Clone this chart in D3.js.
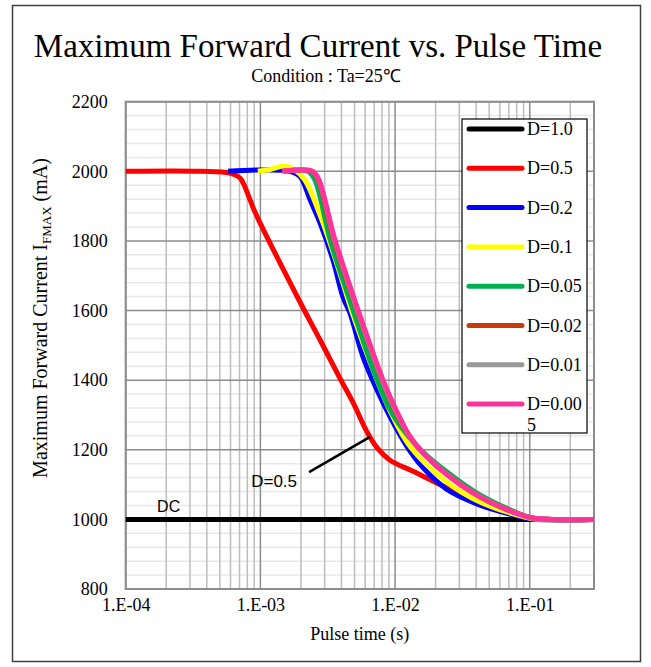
<!DOCTYPE html>
<html>
<head>
<meta charset="utf-8">
<script src="https://cdn.jsdelivr.net/npm/d3@7"></script>
<style>
  body { margin: 0; background: #fff; }
  .graph svg { display: block; }
</style>
</head>
<body>
<div class="graph"></div>
<script>
const width = 651;
const height = 667;
const margin = {top: 101.7, right: 57, bottom: 78, left: 125.7};
const innerHeight = height - margin.top - margin.bottom;
const innerWidth = width - margin.left - margin.right;
const serif = "'Liberation Serif', 'Times New Roman', serif";
const sans = "'Liberation Sans', Arial, sans-serif";

// pulse time (s), max forward current (mA)
const d10 = [[1e-4, 1000], [0.3, 1000]];
const d05 = [[1e-4, 2000], [3.57e-4, 2000], [5.94e-4, 1995], [7.06e-4, 1981], [8.38e-4, 1918],
  [9.12e-4, 1883], [1.9e-3, 1636], [2.77e-3, 1516], [3.9e-3, 1405], [4.87e-3, 1336],
  [6.18e-3, 1252], [7.34e-3, 1206], [9.17e-3, 1170], [1.36e-2, 1138], [2.43e-2, 1090],
  [4.27e-2, 1047], [7.5e-2, 1018], [0.1, 1004], [0.3, 1000]];
const d02 = [[5.75e-4, 2000], [1e-3, 2004], [1.66e-3, 2000], [1.97e-3, 1985], [2.34e-3, 1918],
  [2.77e-3, 1852], [3.46e-3, 1745], [4.1e-3, 1639], [4.62e-3, 1593], [5.78e-3, 1467],
  [7.34e-3, 1372], [9.17e-3, 1295], [1.2e-2, 1215], [1.6e-2, 1150], [2.43e-2, 1086],
  [4.27e-2, 1041], [7.5e-2, 1013], [0.105, 1001], [0.3, 1000]];
const d01 = [[9.57e-4, 2000], [1.18e-3, 2005], [1.52e-3, 2015], [1.81e-3, 2003], [2.14e-3, 1975],
  [2.77e-3, 1875], [3.58e-3, 1751], [4.87e-3, 1587], [7.09e-3, 1415], [9.49e-3, 1300],
  [1.3e-2, 1208], [2.43e-2, 1107], [4.27e-2, 1050], [7.5e-2, 1016], [0.105, 1002], [0.3, 1000]];
const d005 = [[1.52e-3, 2000], [2.25e-3, 2000], [2.54e-3, 1975], [3.3e-3, 1803], [4.87e-3, 1602],
  [7.34e-3, 1401], [9.5e-3, 1305], [1.25e-2, 1240], [1.6e-2, 1195], [2.43e-2, 1136], [4.27e-2, 1070],
  [7.5e-2, 1024], [0.105, 1004], [0.3, 1000]];
const d002 = [[1.5e-3, 2000], [2.4e-3, 2000], [2.65e-3, 1980], [3.5e-3, 1803], [5.2e-3, 1602],
  [8e-3, 1401], [1.02e-2, 1305], [1.28e-2, 1238], [1.62e-2, 1190], [2.43e-2, 1130], [4.27e-2, 1066],
  [7.5e-2, 1022], [0.105, 1004], [0.3, 1000]];
const d001 = [[1.48e-3, 2000], [2.42e-3, 2000], [2.67e-3, 1981], [3.55e-3, 1803], [5.25e-3, 1602],
  [8.05e-3, 1401], [1.03e-2, 1306], [1.29e-2, 1237], [1.63e-2, 1189], [2.43e-2, 1129], [4.27e-2, 1065],
  [7.5e-2, 1021], [0.105, 1004], [0.3, 1000]];
const d0005 = [[1.45e-3, 2000], [2.42e-3, 2000], [2.68e-3, 1981], [3.58e-3, 1803], [5.31e-3, 1602],
  [8.13e-3, 1401], [1.04e-2, 1307], [1.3e-2, 1236], [1.64e-2, 1188], [2.43e-2, 1128], [4.27e-2, 1064],
  [7.5e-2, 1021], [0.105, 1004], [0.3, 1000]];

const seriesNames = ['D=1.0', 'D=0.5', 'D=0.2', 'D=0.1', 'D=0.05', 'D=0.02', 'D=0.01', 'D=0.005'];
const seriesData = [d10, d05, d02, d01, d005, d002, d001, d0005];
const seriesColors = ['#000000', '#ff0000', '#0000ff', '#ffff00', '#00b050', '#c83c0a', '#999999', '#ff3399'];

const xTicks = [1e-4, 1e-3, 1e-2, 1e-1];
const xTickLabels = ['1.E-04', '1.E-03', '1.E-02', '1.E-01'];
const yTicks = [800, 1000, 1200, 1400, 1600, 1800, 2000, 2200];

// annotations: [time, mA]
const dcLabelPos = [1.71e-4, 1021];
const d05Leader = [[2.3e-3, 1136], [6.52e-3, 1237]];
const d05LabelPos = [8.55e-4, 1093];

const svg = d3.select('.graph').append('svg')
  .attr('width', width)
  .attr('height', height);

svg.append('rect')
  .attr('x', 12.5).attr('y', 5.5)
  .attr('width', 628).attr('height', 656)
  .attr('fill', '#fff')
  .attr('stroke', '#404040')
  .attr('stroke-width', 1.5);

svg.append('text')
  .attr('x', 318).attr('y', 57)
  .attr('text-anchor', 'middle')
  .style('font-family', serif).style('font-size', '33px')
  .text('Maximum Forward Current vs. Pulse Time');

svg.append('text')
  .attr('x', 326).attr('y', 82)
  .attr('text-anchor', 'middle')
  .style('font-family', serif).style('font-size', '18px')
  .text('Condition : Ta=25℃');

const chart = svg.append('g')
  .attr('transform', `translate(${margin.left}, ${margin.top})`);

const xScale = d3.scaleLog().domain([1e-4, 0.3]).range([0, innerWidth]);
const yScale = d3.scaleLinear().domain([800, 2200]).range([innerHeight, 0]);

// horizontal minor grid (every 40 mA)
chart.append('g').selectAll('line')
  .data(d3.range(800, 2201, 40).filter(v => v % 200 !== 0))
  .join('line')
  .attr('x1', 0).attr('x2', innerWidth)
  .attr('y1', d => yScale(d)).attr('y2', d => yScale(d))
  .attr('stroke', '#e8e8e8').attr('stroke-width', 1.5);

// vertical minor grid
const minorX = [];
xTicks.forEach(dec => { for (let k = 2; k <= 9; k++) if (dec * k <= 0.3 + 1e-9) minorX.push(dec * k); });
chart.append('g').selectAll('line')
  .data(minorX)
  .join('line')
  .attr('x1', d => xScale(d)).attr('x2', d => xScale(d))
  .attr('y1', 0).attr('y2', innerHeight)
  .attr('stroke', '#bdbdbd').attr('stroke-width', 1.5);

// major grid
chart.append('g').selectAll('line')
  .data(yTicks)
  .join('line')
  .attr('x1', 0).attr('x2', innerWidth)
  .attr('y1', d => yScale(d)).attr('y2', d => yScale(d))
  .attr('stroke', '#8c8c8c').attr('stroke-width', 1.5);

chart.append('g').selectAll('line')
  .data(xTicks)
  .join('line')
  .attr('x1', d => xScale(d)).attr('x2', d => xScale(d))
  .attr('y1', 0).attr('y2', innerHeight)
  .attr('stroke', '#8c8c8c').attr('stroke-width', 1.5);

chart.append('rect')
  .attr('width', innerWidth).attr('height', innerHeight)
  .attr('fill', 'none')
  .attr('stroke', '#8c8c8c').attr('stroke-width', 2);

// axes labels
const yAxis = d3.axisLeft(yScale).tickValues(yTicks).tickFormat(d3.format('d')).tickSize(0).tickPadding(18);
const yg = chart.append('g').call(yAxis);
yg.select('.domain').remove();
yg.selectAll('text').style('font-family', serif).style('font-size', '18px').attr('fill', '#000');

const xAxis = d3.axisBottom(xScale).tickValues(xTicks)
  .tickFormat((d, i) => xTickLabels[i]).tickSize(0).tickPadding(9);
const xg = chart.append('g').attr('transform', `translate(0, ${innerHeight})`).call(xAxis);
xg.select('.domain').remove();
xg.selectAll('text').style('font-family', serif).style('font-size', '18px').attr('fill', '#000');

svg.append('text')
  .attr('x', margin.left + innerWidth / 2).attr('y', 640)
  .attr('text-anchor', 'middle')
  .style('font-family', serif).style('font-size', '18px')
  .text('Pulse time (s)');

const yLabel = svg.append('text')
  .attr('transform', `translate(47, 318) rotate(-90)`)
  .attr('text-anchor', 'middle')
  .style('font-family', serif).style('font-size', '20px');
yLabel.append('tspan').text('Maximum Forward Current  I');
yLabel.append('tspan').attr('dy', 4).style('font-size', '13px').text('FMAX');
yLabel.append('tspan').attr('dy', -4).text(' (mA)');

// curves
const line = d3.line()
  .x(d => xScale(d[0]))
  .y(d => yScale(d[1]))
  .curve(d3.curveCatmullRom.alpha(0.5));

chart.append('g').selectAll('path')
  .data(seriesData)
  .join('path')
  .attr('d', line)
  .attr('fill', 'none')
  .attr('stroke', (d, i) => seriesColors[i])
  .attr('stroke-width', 5)
  .attr('stroke-linejoin', 'round');

// annotations
chart.append('text')
  .attr('x', xScale(dcLabelPos[0])).attr('y', yScale(dcLabelPos[1]))
  .style('font-family', sans).style('font-size', '16px')
  .text('DC');

chart.append('line')
  .attr('x1', xScale(d05Leader[0][0])).attr('y1', yScale(d05Leader[0][1]))
  .attr('x2', xScale(d05Leader[1][0])).attr('y2', yScale(d05Leader[1][1]))
  .attr('stroke', '#000').attr('stroke-width', 2.5);

chart.append('text')
  .attr('x', xScale(d05LabelPos[0])).attr('y', yScale(d05LabelPos[1]))
  .style('font-family', sans).style('font-size', '17px')
  .text('D=0.5');

// legend
const legend = svg.append('g').attr('transform', 'translate(462, 119)');
legend.append('rect')
  .attr('width', 125).attr('height', 314)
  .attr('fill', '#fff').attr('stroke', '#000').attr('stroke-width', 1.2);

const items = legend.selectAll('g.item')
  .data(seriesNames)
  .join('g')
  .attr('class', 'item')
  .attr('transform', (d, i) => `translate(0, ${10 + i * 39.3})`);

items.append('line')
  .attr('x1', 7).attr('x2', 60)
  .attr('stroke', (d, i) => seriesColors[i])
  .attr('stroke-width', 5).attr('stroke-linecap', 'round');

items.append('text')
  .attr('x', 65).attr('y', 6)
  .style('font-family', serif).style('font-size', '18px')
  .each(function(d) {
    const t = d3.select(this);
    if (d.length > 6) {
      t.append('tspan').text(d.slice(0, 6));
      t.append('tspan').attr('x', 65).attr('dy', 21).text(d.slice(6));
    } else {
      t.text(d);
    }
  });
</script>
</body>
</html>
